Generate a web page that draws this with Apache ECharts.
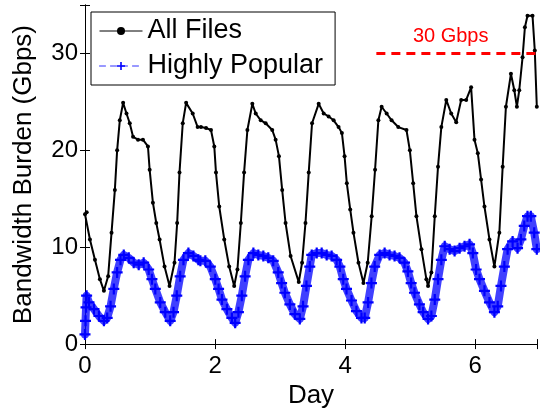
<!DOCTYPE html>
<html>
<head>
	<meta charset="utf-8">
	<title>Bandwidth Burden</title>
	<script type="text/javascript" src="https://cdn.jsdelivr.net/npm/echarts@6/dist/echarts.min.js"></script>
	<style>
		html, body { margin: 0; padding: 0; background: #fff; }
	</style>
</head>
<body>
<div id="main" style="width: 540px;height: 414px;"></div>
<script type="text/javascript">

	// All Files (black): day / Gbps
	var allDays = [0.00,0.026,0.076,0.153,0.229,0.291,0.356,0.408,0.459,0.494,0.535,0.586,0.638,0.688,0.739,0.815,0.891,0.968,0.994,1.044,1.096,1.147,1.223,1.300,1.376,1.417,1.453,1.503,1.555,1.656,1.732,1.783,1.861,1.937,1.988,2.014,2.064,2.141,2.217,2.294,2.344,2.396,2.446,2.497,2.573,2.625,2.702,2.778,2.879,2.931,2.982,3.032,3.084,3.161,3.287,3.338,3.390,3.440,3.491,3.593,3.670,3.746,3.823,3.899,3.950,3.991,4.026,4.078,4.128,4.205,4.281,4.347,4.408,4.460,4.511,4.561,4.638,4.714,4.817,4.943,4.995,5.046,5.096,5.173,5.249,5.275,5.326,5.378,5.428,5.479,5.555,5.631,5.708,5.784,5.861,5.937,5.989,6.040,6.090,6.142,6.219,6.295,6.371,6.422,6.472,6.549,6.601,6.641,6.677,6.728,6.764,6.804,6.881,6.916,6.947];
	var allVals = [13.4,13.6,10.8,8.7,6.7,5.5,7.0,11.5,15.9,20.0,23.1,24.9,23.8,22.8,21.4,21.1,21.1,20.4,18.0,14.6,12.5,10.8,8.0,6.0,8.4,12.5,17.7,22.8,24.9,23.8,22.4,22.4,22.3,22.1,20.4,17.7,14.2,10.8,8.0,6.0,7.7,12.5,17.7,22.1,24.8,23.8,23.1,22.8,22.1,21.1,19.4,15.9,12.5,9.1,6.4,8.4,12.5,17.7,22.8,24.8,23.8,23.5,23.1,22.4,21.8,19.4,16.6,13.9,11.5,8.4,6.3,8.4,13.2,18.0,23.1,24.5,23.8,23.1,22.4,22.1,20.0,16.6,13.2,9.8,6.7,6.0,7.4,13.2,18.3,22.4,25.2,23.8,22.9,25.2,25.2,26.5,21.1,19.7,17.0,14.2,10.8,8.0,11.5,18.3,24.5,27.9,26.2,24.5,26.2,29.6,32.7,33.9,33.9,30.3,24.5];

	// Highly Popular (blue), middle of the band
	var popDays = [0.000,0.008,0.016,0.025,0.061,0.138,0.214,0.291,0.341,0.393,0.443,0.494,0.546,0.596,0.673,0.749,0.826,0.902,0.979,1.029,1.081,1.157,1.234,1.310,1.361,1.411,1.463,1.514,1.590,1.667,1.743,1.774,1.850,1.927,2.003,2.054,2.106,2.182,2.258,2.309,2.359,2.411,2.462,2.512,2.589,2.665,2.742,2.818,2.894,2.971,3.023,3.073,3.150,3.226,3.303,3.353,3.405,3.456,3.486,3.563,3.639,3.716,3.792,3.869,3.919,3.971,4.021,4.098,4.174,4.251,4.301,4.353,4.404,4.454,4.531,4.607,4.683,4.760,4.836,4.913,4.965,5.015,5.066,5.142,5.199,5.275,5.326,5.378,5.428,5.479,5.531,5.607,5.683,5.760,5.836,5.913,5.963,6.014,6.066,6.142,6.219,6.295,6.346,6.396,6.448,6.498,6.575,6.651,6.702,6.754,6.804,6.855,6.907,6.947];
	var popVals = [1.0,2.4,3.8,5.0,4.3,3.6,2.9,2.4,2.7,3.9,5.7,7.4,8.7,9.2,8.9,8.4,8.2,8.4,7.7,6.7,5.7,4.3,3.3,2.4,3.3,5.0,7.0,8.7,9.4,9.1,8.7,8.6,8.6,8.0,6.7,5.7,4.6,3.6,2.7,2.2,3.3,5.0,7.0,8.7,9.4,9.2,9.1,8.9,8.6,7.4,6.3,5.3,4.1,3.1,2.6,3.9,6.0,8.0,9.2,9.4,9.4,9.2,9.1,8.7,8.0,6.7,5.7,4.5,3.4,2.7,2.7,4.3,6.3,8.0,9.2,9.4,9.2,9.1,8.9,8.4,7.5,6.3,5.3,4.1,3.3,2.6,2.9,4.6,6.7,8.7,10.1,9.8,9.6,9.9,10.1,10.3,9.4,7.7,6.7,5.5,4.3,3.3,3.9,6.0,8.0,9.8,10.6,9.9,10.8,12.2,13.2,13.2,11.5,9.8];

	var xTicks = [0, 2, 4, 6];
	var yTicks = [0, 10, 20, 30];
	var limitValue = 30;
	var limitFrom = 4.48;
	var limitText = '30 Gbps';

	function pairs(xs, ys) {
		var out = [];
		for (var i = 0; i < xs.length; i++) {
			out.push([xs[i], ys[i]]);
		}
		return out;
	}

	var font = 'Liberation Sans';
	var xMax = 6.95;
	var plus = 'path://M4,0H6V4H10V6H6V10H4V6H0V4H4Z';

	var myChart = echarts.init(document.getElementById('main'));

	var option = {
		animation: false,
		grid: {
			left: 85,
			right: 1,
			top: 5,
			bottom: 69
		},
		legend: {
			orient: 'vertical',
			left: 91,
			top: 12,
			backgroundColor: '#fff',
			borderColor: '#000',
			borderWidth: 1,
			borderRadius: 0,
			padding: [4, 12, 4, 8],
			itemWidth: 43,
			itemHeight: 10,
			itemGap: 5,
			data: [
				{ name: 'All Files', lineStyle: { width: 1, color: '#000' } },
				{ name: 'Highly Popular', lineStyle: { width: 1, color: '#3333ff', opacity: 1, type: [6, 5] } }
			],
			textStyle: {
				fontFamily: font,
				fontSize: 27,
				lineHeight: 30,
				color: '#000'
			}
		},
		xAxis: [{
			type: 'value',
			min: 0,
			max: xMax,
			interval: 2,
			name: 'Day',
			nameLocation: 'middle',
			nameGap: 34,
			nameTextStyle: { fontFamily: font, fontSize: 26, color: '#000' },
			splitLine: { show: false },
			axisLine: { lineStyle: { color: '#000', width: 1 } },
			axisTick: { inside: true, length: 5, lineStyle: { color: '#000' } },
			axisLabel: {
				fontFamily: font, fontSize: 24, color: '#000', margin: 10,
				formatter: function (v) { return xTicks.indexOf(v) >= 0 ? String(v) : ''; }
			}
		}, {
			type: 'value',
			position: 'top',
			min: 0,
			max: xMax,
			interval: 2,
			splitLine: { show: false },
			axisLine: { lineStyle: { color: '#000', width: 1 } },
			axisTick: { inside: true, length: 5, lineStyle: { color: '#000' } },
			axisLabel: { show: false }
		}],
		yAxis: [{
			type: 'value',
			min: 0,
			max: 35,
			interval: 10,
			name: 'Bandwidth Burden (Gbps)',
			nameLocation: 'middle',
			nameGap: 48,
			nameTextStyle: { fontFamily: font, fontSize: 26, color: '#000' },
			splitLine: { show: false },
			axisLine: { show: true, lineStyle: { color: '#000', width: 1 } },
			axisTick: { show: true, inside: true, length: 5, lineStyle: { color: '#000' } },
			axisLabel: {
				fontFamily: font, fontSize: 24, color: '#000', margin: 7,
				formatter: function (v) { return yTicks.indexOf(v) >= 0 ? String(v) : ''; }
			}
		}, {
			type: 'value',
			position: 'right',
			min: 0,
			max: 35,
			interval: 10,
			splitLine: { show: false },
			axisLine: { show: true, lineStyle: { color: '#000', width: 1 } },
			axisTick: { show: true, inside: true, length: 5, lineStyle: { color: '#000' } },
			axisLabel: { show: false }
		}],
		series: [
			{
				name: 'Highly Popular',
				type: 'line',
				data: pairs(popDays, popVals),
				symbol: plus,
				symbolSize: 11,
				showAllSymbol: true,
				itemStyle: { color: '#0000ff', opacity: 1 },
				lineStyle: { color: '#1010ff', width: 8, opacity: 0.8, cap: 'round', join: 'round' },
				z: 2
			},
			{
				name: 'All Files',
				type: 'line',
				data: pairs(allDays, allVals),
				symbol: 'circle',
				symbolSize: 4,
				showAllSymbol: true,
				itemStyle: { color: '#000' },
				lineStyle: { color: '#000', width: 2 },
				z: 3,
				markLine: {
					silent: true,
					symbol: 'none',
					lineStyle: { color: '#ff0000', width: 3, type: [9, 6] },
					label: {
						show: true,
						position: 'insideMiddleTop',
						formatter: limitText,
						color: '#ff0000',
						fontFamily: font,
						fontSize: 20,
						distance: 7,
						offset: [-6, 0]
					},
					data: [[{ coord: [limitFrom, limitValue] }, { coord: [xMax, limitValue] }]]
				}
			}
		]
	};

	myChart.setOption(option);
</script>
</body>
</html>
